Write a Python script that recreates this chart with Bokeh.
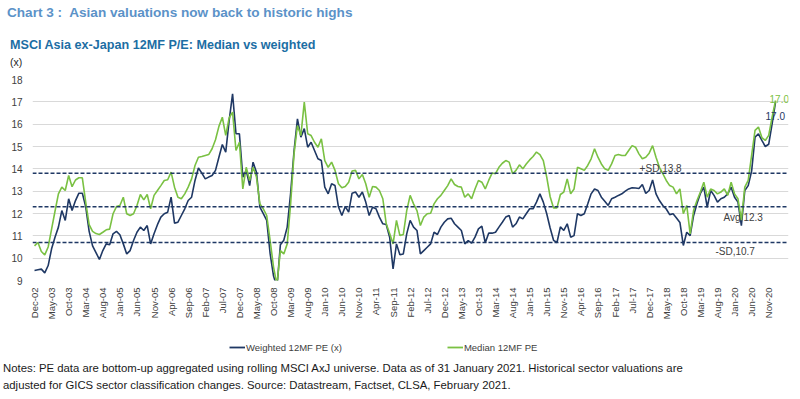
from math import pi
from bokeh.plotting import figure
from bokeh.layouts import column
from bokeh.models import Range1d, FixedTicker, Span, Label, Legend, LegendItem, Div
from bokeh.embed import file_html
from bokeh.resources import INLINE

# ---------------- data (monthly, Dec-02 .. Jan-21) ----------------
weighted = [
    9.45, 9.48, 9.51, 9.34, 9.67, 10.42, 10.94, 11.39, 12.13, 11.69,
    12.66, 12.13, 12.58, 12.91, 12.91, 12.3, 11.2, 10.55, 10.25, 9.94,
    10.34, 10.64, 10.6, 11.09, 11.2, 11.05, 10.64, 10.19, 10.34, 10.79,
    11.16, 11.39, 11.24, 11.46, 10.64, 11.09, 11.5, 11.84, 11.99, 12.06,
    12.73, 11.57, 11.61, 11.91, 12.21, 12.58, 12.73, 13.48, 14.04, 13.81,
    13.55, 13.63, 13.70, 13.93, 14.52, 15.09, 14.75, 16.16, 17.36, 15.57,
    15.57, 13.63, 13.93, 13.25, 14.30, 13.85, 12.28, 11.99, 11.69, 10.2,
    9.2, 8.7, 10.6, 10.8, 11.39, 12.9, 14.8, 16.24, 15.42, 15.8,
    14.97, 15.19, 14.82, 14.45, 14.37, 13.18, 12.88, 13.33, 13.25, 12.3,
    11.91, 12.31, 12.06, 12.91, 12.96, 12.73, 12.96, 12.51, 11.91, 12.28,
    12.21, 11.84, 11.54, 11.51, 10.94, 9.52, 10.64, 10.15, 10.19, 11.09,
    11.69, 11.39, 11.24, 10.19, 10.34, 10.49, 10.64, 11.16, 11.06, 11.39,
    11.61, 11.76, 11.79, 11.54, 11.39, 11.24, 10.64, 10.79, 10.67, 10.94,
    11.31, 11.43, 10.69, 11.12, 11.12, 11.16, 11.39, 11.61, 11.84, 11.91,
    11.39, 11.54, 11.84, 11.76, 11.99, 12.21, 12.21, 12.51, 12.88, 12.51,
    11.99, 11.35, 10.8, 10.7, 11.4, 11.24, 11.54, 10.94, 11.01, 11.99,
    11.91, 11.99, 12.43, 12.88, 13.10, 13.03, 12.73, 12.55, 12.36, 12.66,
    12.73, 12.81, 12.88, 13.0, 13.1, 13.15, 13.14, 13.12, 13.3, 12.9,
    13.03, 13.5, 12.88, 12.58, 12.36, 12.2, 11.95, 11.99, 11.8, 11.6,
    10.57, 11.16, 11.01, 11.9, 12.45, 12.9, 13.18, 12.28, 13.03, 12.81,
    12.51, 12.66, 12.73, 12.88, 13.18, 12.73, 12.51, 11.46, 13.03, 13.25,
    13.9, 15.42, 15.57, 15.27, 15.0, 15.1, 16.01, 16.99,
]

median = [
    10.55, 10.7, 10.3, 10.15, 10.5, 11.3, 12.1, 12.88, 13.18, 13.03,
    13.7, 13.2, 13.5, 13.6, 13.6, 12.5, 11.5, 11.2, 11.1, 11.06,
    11.16, 11.27, 11.3, 11.99, 12.31, 12.36, 12.73, 11.99, 11.91, 11.99,
    12.36, 12.85, 12.61, 12.85, 12.21, 12.81, 13.03, 13.25, 13.48, 13.51,
    13.85, 13.18, 12.73, 12.66, 12.88, 13.18, 13.55, 14.15, 14.52, 14.55,
    14.6, 14.64, 14.9, 15.3, 15.9, 16.31, 15.5, 16.28, 16.54, 14.82,
    15.19, 13.10, 14.07, 13.48, 14.07, 13.63, 12.43, 12.21, 11.91, 10.79,
    9.6, 8.8, 10.34, 10.19, 10.64, 12.43, 14.67, 15.94, 15.49, 16.99,
    15.57, 15.49, 15.19, 14.97, 15.34, 14.37, 14.07, 14.30, 13.93, 13.33,
    13.15, 13.21, 13.40, 13.90, 13.93, 13.55, 13.75, 13.33, 12.73, 13.21,
    13.18, 13.03, 12.66, 11.54, 11.1, 10.64, 11.69, 11.01, 11.06, 12.13,
    12.81, 12.43, 12.13, 11.46, 11.84, 11.99, 12.01, 12.43, 12.66, 12.81,
    13.03, 13.25, 13.55, 13.30, 13.21, 13.18, 12.73, 12.88, 12.66, 13.1,
    13.48, 13.40, 13.10, 13.48, 13.81, 13.78, 14.07, 14.25, 14.37, 14.30,
    13.78, 13.93, 14.18, 14.0, 14.22, 14.40, 14.55, 14.75, 14.64, 14.37,
    13.63, 12.75, 12.25, 12.25, 12.85, 12.96, 13.55, 12.88, 13.10, 14.07,
    14.0, 13.93, 14.15, 14.45, 14.90, 14.52, 14.22, 14.0, 13.93, 14.22,
    14.60, 14.64, 14.60, 14.60, 14.82, 15.04, 14.97, 14.67, 14.45, 14.52,
    14.7, 15.04, 14.52, 14.07, 13.78, 13.48, 13.25, 13.18, 12.88, 13.10,
    11.99, 12.36, 11.09, 12.13, 12.58, 12.96, 13.4, 12.73, 13.10, 13.03,
    12.88, 12.96, 13.10, 12.81, 13.40, 12.88, 12.66, 11.7, 13.18, 13.48,
    14.6, 15.72, 15.87, 15.4, 15.27, 15.5, 16.31, 17.06,
]

tick_labels = [
    "Dec-02", "May-03", "Oct-03", "Mar-04", "Aug-04", "Jan-05", "Jun-05", "Nov-05",
    "Apr-06", "Sep-06", "Feb-07", "Jul-07", "Dec-07", "May-08", "Oct-08", "Mar-09",
    "Aug-09", "Jan-10", "Jun-10", "Nov-10", "Apr-11", "Sep-11", "Feb-12", "Jul-12",
    "Dec-12", "May-13", "Oct-13", "Mar-14", "Aug-14", "Jan-15", "Jun-15", "Nov-15",
    "Apr-16", "Sep-16", "Feb-17", "Jul-17", "Dec-17", "May-18", "Oct-18", "Mar-19",
    "Aug-19", "Jan-20", "Jun-20", "Nov-20",
]
label_step = 5
y_ticks = [9, 10, 11, 12, 13, 14, 15, 16, 17, 18]

band_levels = [13.8, 12.3, 10.7]
band_texts = ["+SD,13.8", "Avg 12.3", "-SD,10.7"]
last_texts = ["17.0", "17.0"]

title_text = "Chart 3 :&nbsp; Asian valuations now back to historic highs"
subtitle_text = "MSCI Asia ex-Japan 12MF P/E: Median vs weighted"
unit_text = "(x)"
series_names = ["Weighted 12MF PE (x)", "Median 12MF PE"]
notes = [
    "Notes: PE data are bottom-up aggregated using rolling MSCI AxJ universe. Data as of 31 January 2021. Historical sector valuations are",
    "adjusted for GICS sector classification changes. Source: Datastream, Factset, CLSA, February 2021.",
]

# ---------------- styling ----------------
NAVY = "#1f3864"
GREEN = "#7ac143"
TICK = "#404040"
FONT = "'Liberation Sans', Arial, sans-serif"

months = list(range(len(weighted)))
tick_pos = [i * label_step for i in range(len(tick_labels))]

# ---------------- header ----------------
header_html = (
    f'<div style="font-family:{FONT};white-space:nowrap;">'
    f'<div style="font-size:13.6px;font-weight:bold;color:#5b92c8;line-height:16px;height:16px;margin:5px 0 0 7px;">{title_text}</div>'
    f'<div style="font-size:12.6px;font-weight:bold;color:#1c6ea4;line-height:16px;height:16px;margin:16px 0 0 10px;">{subtitle_text}</div>'
    f'<div style="font-size:10.5px;color:#262626;line-height:12px;height:12px;margin:3px 0 0 10px;">{unit_text}</div>'
    '</div>'
)
header = Div(text=header_html, width=800, height=71, margin=(0, 0, 0, 0))

# ---------------- chart ----------------
p = figure(width=800, height=254, output_backend="svg", toolbar_location=None,
           x_range=Range1d(-0.59, 220.8), y_range=Range1d(9, 18),
           min_border_left=32, min_border_right=12, min_border_top=8,
           min_border_bottom=45)
p.outline_line_color = None
p.background_fill_color = "white"
p.border_fill_color = "white"

p.yaxis.ticker = FixedTicker(ticks=y_ticks)
p.yaxis.axis_line_color = None
p.yaxis.major_tick_line_color = None
p.yaxis.minor_tick_line_color = None
p.yaxis.major_tick_out = 0
p.yaxis.major_tick_in = 0
p.yaxis.major_label_standoff = 10
p.yaxis.major_label_text_font_size = "10px"
p.yaxis.major_label_text_font = FONT
p.yaxis.major_label_text_color = TICK

p.xaxis.ticker = FixedTicker(ticks=tick_pos)
p.xaxis.major_label_overrides = {pos: lab for pos, lab in zip(tick_pos, tick_labels)}
p.xaxis.major_label_orientation = pi / 2
p.xaxis.axis_line_color = None
p.xaxis.major_tick_line_color = None
p.xaxis.minor_tick_line_color = None
p.xaxis.major_tick_out = 0
p.xaxis.major_tick_in = 0
p.xaxis.major_label_standoff = 7
p.xaxis.major_label_text_font_size = "9.5px"
p.xaxis.major_label_text_font = FONT
p.xaxis.major_label_text_color = TICK

p.xgrid.grid_line_color = None
p.ygrid.ticker = FixedTicker(ticks=y_ticks)
p.ygrid.grid_line_color = "#d9d9d9"
p.ygrid.grid_line_width = 1

r_w = p.line(months, weighted, line_color=NAVY, line_width=1.6)
r_m = p.line(months, median, line_color=GREEN, line_width=1.6)

offsets = [5, -11, -9]
xpos = [177.2, 201.8, 199.4]
for lvl, txt, off, xp in zip(band_levels, band_texts, offsets, xpos):
    p.add_layout(Span(location=lvl, dimension="width", line_color=NAVY,
                      line_width=1.4, line_dash="4 2"))
    p.add_layout(Label(x=xp, y=lvl, text=txt, text_baseline="middle",
                       y_offset=off, text_font_size="10px", text_font=FONT,
                       text_color="#404040"))

p.add_layout(Label(x=months[-1], y=median[-1], text=last_texts[1],
                   x_offset=-6, y_offset=1, text_baseline="middle",
                   text_font_size="10px", text_font=FONT, text_color=GREEN))
p.add_layout(Label(x=months[-1], y=weighted[-1], text=last_texts[0],
                   x_offset=-10, y_offset=-14, text_baseline="middle",
                   text_font_size="10px", text_font=FONT, text_color=NAVY))

# ---------------- legend strip ----------------
lf = figure(width=800, height=35, output_backend="svg", toolbar_location=None,
            x_range=Range1d(-20, -10), y_range=Range1d(0, 1),
            min_border=0, min_border_left=0, min_border_right=0,
            min_border_top=0, min_border_bottom=0)
lf.axis.visible = False
lf.grid.visible = False
lf.outline_line_color = None
l_w = lf.line(months, weighted, line_color=NAVY, line_width=1.8)
l_m = lf.line(months, median, line_color=GREEN, line_width=1.8)
legend = Legend(items=[LegendItem(label=series_names[0], renderers=[l_w]),
                       LegendItem(label=series_names[1], renderers=[l_m])],
                location=(197, 7), orientation="horizontal",
                border_line_color=None, background_fill_alpha=0,
                padding=0, margin=0, spacing=105, glyph_width=16, glyph_height=12,
                label_height=12, label_standoff=1, label_text_font=FONT,
                label_text_font_size="9.5px", label_text_color="#404040")
lf.add_layout(legend)

# ---------------- notes ----------------
notes_html = (
    f'<div style="font-family:{FONT};font-size:11.35px;color:#1a1a1a;line-height:17px;margin:0 0 0 3px;white-space:nowrap;">'
    + "<br>".join(notes) + '</div>'
)
notes_div = Div(text=notes_html, width=800, height=39, margin=(0, 0, 0, 0))

layout = column(header, p, lf, notes_div, spacing=0)
open("out.html", "w").write(file_html(layout, INLINE))
